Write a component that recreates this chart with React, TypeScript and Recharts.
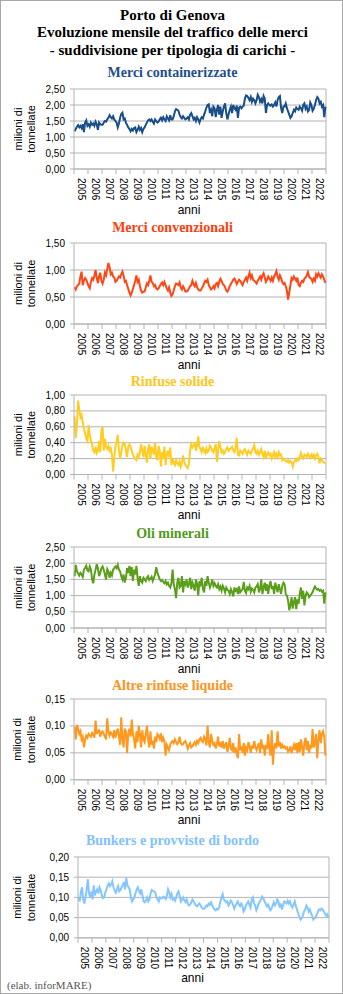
import { LineChart, Line, XAxis, YAxis, CartesianGrid, ReferenceLine } from "recharts";

const years = [
  "2005", "2006", "2007", "2008", "2009", "2010", "2011", "2012", "2013",
  "2014", "2015", "2016", "2017", "2018", "2019", "2020", "2021", "2022",
];

// milioni di tonnellate, monthly 2005-2022
const containerizzate = [
  1.18, 1.25, 1.32, 1.37, 1.30, 1.35, 1.28, 1.40, 1.15, 1.45, 1.52, 1.35,
  1.40, 1.32, 1.45, 1.38, 1.42, 1.35, 1.48, 1.40, 1.22, 1.45, 1.40, 1.38,
  1.38, 1.45, 1.50, 1.48, 1.55, 1.60, 1.68, 1.62, 1.58, 1.65, 1.55, 1.50,
  1.45, 1.30, 1.42, 1.60, 1.72, 1.76, 1.55, 1.58, 1.45, 1.38, 1.30, 1.25,
  1.18, 1.25, 1.20, 1.28, 1.30, 1.15, 1.22, 1.32, 1.22, 1.28, 1.15, 1.25,
  1.30, 1.38, 1.45, 1.52, 1.55, 1.50, 1.55, 1.48, 1.42, 1.55, 1.50, 1.45,
  1.48, 1.55, 1.60, 1.52, 1.62, 1.55, 1.50, 1.65, 1.58, 1.52, 1.68, 1.55,
  1.55, 1.65, 1.80, 1.87, 1.85, 1.82, 1.70, 1.62, 1.58, 1.65, 1.60, 1.55,
  1.58, 1.62, 1.55, 1.70, 1.75, 1.65, 1.55, 1.60, 1.50, 1.62, 1.55, 1.45,
  1.55, 1.62, 1.58, 1.70, 1.80, 1.92, 2.00, 2.02, 1.75, 1.85, 1.65, 1.95,
  1.90, 1.62, 1.85, 2.00, 1.70, 1.95, 1.60, 1.80, 1.95, 2.05, 1.75, 1.55,
  1.70, 1.85, 1.95, 1.75, 2.00, 1.90, 1.85, 1.98, 1.60, 1.92, 1.95, 1.90,
  1.95, 1.98, 2.20, 2.30, 2.28, 2.22, 2.15, 2.25, 2.10, 2.20, 2.15, 2.05,
  2.15, 2.32, 2.25, 2.10, 2.18, 2.05, 2.28, 2.20, 1.75, 2.00, 2.05, 2.00,
  1.98, 2.02, 1.95, 2.00, 2.08, 1.95, 2.15, 2.25, 2.28, 1.90, 1.75, 1.95,
  1.95, 2.05, 1.90, 1.80, 1.70, 1.60, 1.65, 1.75, 1.85, 1.80, 1.92, 1.88,
  1.85, 1.95, 1.90, 1.82, 2.00, 2.05, 1.88, 1.95, 1.80, 1.85, 2.08, 2.00,
  1.82, 1.88, 2.00, 2.15, 2.25, 2.20, 2.05, 2.10, 1.95, 2.00, 1.62, 1.95,
];

const convenzionali = [
  0.68, 0.64, 0.70, 0.72, 0.75, 0.88, 0.97, 0.72, 0.80, 0.85, 0.82, 0.76,
  0.70, 0.66, 0.78, 0.85, 0.82, 0.90, 1.00, 0.85, 0.76, 0.88, 0.95, 0.80,
  0.75, 0.82, 0.95, 0.90, 1.02, 1.13, 1.05, 0.92, 0.95, 0.88, 0.86, 0.78,
  0.80, 0.84, 0.88, 0.86, 0.92, 0.97, 0.90, 0.78, 0.80, 0.72, 0.65, 0.58,
  0.53, 0.58, 0.65, 0.72, 0.80, 0.90, 0.78, 0.82, 0.70, 0.62, 0.58, 0.60,
  0.60, 0.68, 0.75, 0.72, 0.80, 0.90, 0.78, 0.76, 0.70, 0.72, 0.66, 0.64,
  0.66, 0.70, 0.74, 0.77, 0.72, 0.78, 0.72, 0.66, 0.62, 0.68, 0.58, 0.52,
  0.55, 0.62, 0.70, 0.75, 0.74, 0.72, 0.77, 0.68, 0.64, 0.70, 0.66, 0.60,
  0.60, 0.62, 0.66, 0.70, 0.72, 0.80, 0.74, 0.70, 0.76, 0.68, 0.64, 0.62,
  0.62, 0.66, 0.70, 0.75, 0.80, 0.78, 0.82, 0.72, 0.68, 0.64, 0.66, 0.70,
  0.66, 0.74, 0.76, 0.70, 0.78, 0.84, 0.80, 0.74, 0.72, 0.68, 0.62, 0.60,
  0.64, 0.70, 0.74, 0.78, 0.82, 0.84, 0.80, 0.74, 0.78, 0.82, 0.80, 0.76,
  0.72, 0.78, 0.82, 0.86, 0.80, 0.88, 0.95, 0.85, 0.90, 0.82, 0.80, 0.78,
  0.75, 0.80, 0.84, 0.88, 0.82, 0.90, 0.94, 0.86, 0.78, 0.82, 0.88, 0.84,
  0.80, 0.86, 0.80, 0.88, 0.92, 0.98, 0.88, 0.82, 0.90, 0.85, 0.78, 0.74,
  0.76, 0.70, 0.62, 0.45, 0.58, 0.72, 0.85, 0.82, 0.88, 0.84, 0.80, 0.86,
  0.72, 0.70, 0.76, 0.80, 0.78, 0.84, 0.86, 0.90, 0.96, 0.88, 0.85, 0.84,
  0.78, 0.84, 0.80, 0.92, 0.88, 0.94, 0.90, 0.86, 0.92, 0.88, 0.82, 0.76,
];

const rinfuseSolide = [
  0.73, 0.46, 0.62, 0.93, 0.82, 0.72, 0.75, 0.65, 0.58, 0.52, 0.45, 0.42,
  0.62, 0.50, 0.42, 0.38, 0.30, 0.28, 0.35, 0.27, 0.30, 0.42, 0.28, 0.55,
  0.60, 0.30, 0.45, 0.35, 0.32, 0.36, 0.30, 0.33, 0.25, 0.04, 0.20, 0.35,
  0.42, 0.50, 0.30, 0.20, 0.28, 0.36, 0.40, 0.38, 0.30, 0.22, 0.35, 0.38,
  0.35, 0.30, 0.25, 0.22, 0.20, 0.18, 0.25, 0.22, 0.28, 0.38, 0.30, 0.22,
  0.36, 0.25, 0.15, 0.32, 0.38, 0.20, 0.35, 0.30, 0.25, 0.40, 0.22, 0.18,
  0.36, 0.30, 0.10, 0.28, 0.20, 0.35, 0.12, 0.25, 0.30, 0.22, 0.34, 0.12,
  0.20, 0.15, 0.12, 0.18, 0.14, 0.12, 0.16, 0.10, 0.15, 0.24, 0.16, 0.12,
  0.10, 0.08, 0.14, 0.30, 0.38, 0.34, 0.36, 0.40, 0.30, 0.36, 0.48, 0.35,
  0.32, 0.28, 0.35, 0.30, 0.27, 0.33, 0.28, 0.30, 0.36, 0.34, 0.30, 0.28,
  0.33, 0.38, 0.16, 0.30, 0.42, 0.35, 0.28, 0.30, 0.26, 0.28, 0.32, 0.34,
  0.30, 0.32, 0.33, 0.35, 0.30, 0.28, 0.34, 0.46, 0.25, 0.24, 0.30, 0.28,
  0.26, 0.30, 0.32, 0.28, 0.25, 0.30, 0.28, 0.26, 0.30, 0.33, 0.37, 0.28,
  0.26, 0.30, 0.25, 0.28, 0.32, 0.26, 0.22, 0.30, 0.20, 0.26, 0.28, 0.24,
  0.26, 0.20, 0.24, 0.28, 0.22, 0.26, 0.22, 0.28, 0.24, 0.25, 0.18, 0.20,
  0.18, 0.17, 0.16, 0.18, 0.15, 0.17, 0.16, 0.10, 0.15, 0.18, 0.17, 0.20,
  0.18, 0.22, 0.27, 0.22, 0.20, 0.25, 0.24, 0.22, 0.26, 0.23, 0.21, 0.25,
  0.22, 0.25, 0.20, 0.24, 0.26, 0.22, 0.14, 0.20, 0.18, 0.16, 0.15, 0.14,
];

const oliMinerali = [
  1.60, 1.95, 1.75, 1.68, 1.62, 1.70, 1.65, 1.58, 1.80, 1.85, 1.92, 1.78,
  1.75, 1.90, 1.80, 1.50, 1.38, 1.65, 1.80, 1.97, 1.85, 1.60, 1.70, 1.85,
  1.90, 1.80, 1.65, 1.50, 1.82, 1.75, 1.55, 1.70, 1.62, 1.80, 1.85, 1.90,
  1.85, 1.95, 1.80, 1.75, 1.60, 1.50, 1.65, 1.40, 1.55, 1.85, 1.70, 1.92,
  1.60, 1.88, 1.45, 1.80, 1.65, 1.92, 1.55, 1.30, 1.60, 1.45, 1.40, 1.55,
  1.50, 1.45, 1.55, 1.60, 1.48, 1.52, 1.58, 1.45, 1.55, 1.65, 1.88, 1.70,
  1.60, 1.50, 1.45, 1.48, 1.42, 1.38, 1.45, 1.35, 1.40, 1.30, 1.25, 1.38,
  1.80, 1.35, 1.20, 0.92, 1.40, 1.55, 1.25, 1.30, 1.60, 1.10, 1.45, 1.35,
  1.50, 1.25, 1.35, 1.55, 1.20, 1.40, 1.30, 1.15, 1.50, 1.35, 1.00, 1.45,
  1.35, 1.55, 1.20, 1.10, 1.45, 1.30, 1.60, 1.40, 1.25, 1.35, 1.50, 1.30,
  1.38, 1.30, 1.25, 1.35, 1.20, 1.28, 1.15, 1.30, 1.22, 1.10, 1.25, 1.18,
  1.15, 1.05, 1.20, 1.10, 0.98, 1.25, 1.15, 1.20, 1.05, 1.28, 1.10, 1.15,
  1.20, 1.42, 1.15, 1.08, 1.25, 1.20, 1.30, 1.12, 1.22, 1.18, 1.10, 1.25,
  1.28, 1.35, 1.10, 1.20, 1.50, 1.05, 1.25, 1.40, 1.15, 1.35, 1.05, 1.30,
  1.45, 1.20, 1.30, 1.05, 1.40, 1.25, 1.10, 1.35, 1.20, 1.05, 1.30, 1.40,
  1.35, 1.05, 1.00, 0.85, 0.55, 0.70, 0.95, 0.60, 0.80, 0.95, 0.58, 0.88,
  0.75, 1.05, 1.25, 0.90, 1.15, 0.70, 1.00, 1.10, 1.05, 0.95, 1.00, 1.05,
  1.10, 1.20, 1.28, 1.22, 1.18, 1.20, 1.15, 1.18, 1.12, 1.15, 0.75, 1.10,
];

const altreRinfuseLiquide = [
  0.098, 0.075, 0.102, 0.095, 0.085, 0.090, 0.075, 0.080, 0.060, 0.075, 0.082, 0.078,
  0.085, 0.082, 0.080, 0.087, 0.084, 0.078, 0.110, 0.085, 0.090, 0.092, 0.080, 0.088,
  0.090, 0.085, 0.080, 0.075, 0.114, 0.090, 0.082, 0.088, 0.085, 0.080, 0.092, 0.078,
  0.088, 0.095, 0.082, 0.065, 0.116, 0.075, 0.060, 0.095, 0.090, 0.050, 0.085, 0.095,
  0.080, 0.112, 0.085, 0.075, 0.058, 0.090, 0.070, 0.100, 0.085, 0.060, 0.092, 0.075,
  0.070, 0.085, 0.100, 0.075, 0.060, 0.090, 0.065, 0.072, 0.058, 0.080, 0.070, 0.085,
  0.082, 0.076, 0.086, 0.070, 0.078, 0.072, 0.045, 0.065, 0.060, 0.055, 0.065, 0.070,
  0.072, 0.068, 0.075, 0.070, 0.066, 0.070, 0.080, 0.068, 0.065, 0.066, 0.070, 0.072,
  0.066, 0.058, 0.064, 0.068, 0.060, 0.062, 0.066, 0.070, 0.065, 0.072, 0.068, 0.075,
  0.078, 0.072, 0.070, 0.080, 0.076, 0.064, 0.100, 0.070, 0.060, 0.085, 0.072, 0.065,
  0.068, 0.058, 0.066, 0.080, 0.062, 0.070, 0.060, 0.072, 0.058, 0.064, 0.070, 0.052,
  0.062, 0.078, 0.058, 0.055, 0.068, 0.050, 0.060, 0.048, 0.040, 0.085, 0.055, 0.062,
  0.050, 0.068, 0.045, 0.060, 0.055, 0.070, 0.062, 0.050, 0.064, 0.058, 0.072, 0.060,
  0.055, 0.062, 0.068, 0.050, 0.075, 0.058, 0.065, 0.045, 0.062, 0.060, 0.085, 0.055,
  0.045, 0.092, 0.028, 0.060, 0.068, 0.058, 0.090, 0.062, 0.070, 0.058, 0.065, 0.060,
  0.062, 0.058, 0.060, 0.052, 0.055, 0.062, 0.050, 0.058, 0.065, 0.055, 0.068, 0.050,
  0.070, 0.052, 0.075, 0.060, 0.045, 0.068, 0.078, 0.055, 0.072, 0.050, 0.065, 0.058,
  0.094, 0.060, 0.070, 0.085, 0.040, 0.075, 0.092, 0.068, 0.085, 0.090, 0.080, 0.045,
];

const bunkers = [
  0.100, 0.090, 0.115, 0.125, 0.095, 0.085, 0.100, 0.120, 0.145, 0.110, 0.100, 0.115,
  0.095, 0.130, 0.105, 0.115, 0.120, 0.110, 0.125, 0.118, 0.105, 0.098, 0.100, 0.112,
  0.120, 0.130, 0.135, 0.128, 0.132, 0.140, 0.125, 0.118, 0.112, 0.120, 0.128, 0.115,
  0.118, 0.125, 0.130, 0.138, 0.120, 0.148, 0.130, 0.125, 0.120, 0.100, 0.090, 0.095,
  0.100, 0.110, 0.120, 0.125, 0.115, 0.110, 0.120, 0.105, 0.090, 0.088, 0.092, 0.100,
  0.090, 0.095, 0.110, 0.118, 0.116, 0.115, 0.112, 0.100, 0.095, 0.090, 0.100, 0.098,
  0.098, 0.102, 0.100, 0.096, 0.105, 0.120, 0.112, 0.100, 0.108, 0.095, 0.098, 0.092,
  0.100, 0.110, 0.115, 0.105, 0.090, 0.095, 0.100, 0.092, 0.088, 0.095, 0.085, 0.080,
  0.082, 0.088, 0.095, 0.090, 0.085, 0.080, 0.078, 0.082, 0.085, 0.080, 0.075, 0.072,
  0.072, 0.075, 0.080, 0.078, 0.085, 0.082, 0.088, 0.080, 0.075, 0.070, 0.068, 0.072,
  0.070, 0.075, 0.090, 0.100, 0.108, 0.095, 0.092, 0.088, 0.090, 0.080, 0.085, 0.092,
  0.088, 0.080, 0.072, 0.080, 0.085, 0.090, 0.082, 0.078, 0.085, 0.080, 0.065, 0.070,
  0.080, 0.085, 0.090, 0.082, 0.075, 0.095, 0.100, 0.085, 0.080, 0.068, 0.075, 0.085,
  0.090, 0.095, 0.102, 0.098, 0.090, 0.085, 0.078, 0.082, 0.075, 0.068, 0.072, 0.080,
  0.088, 0.080, 0.085, 0.095, 0.090, 0.075, 0.085, 0.070, 0.080, 0.090, 0.088, 0.085,
  0.092, 0.085, 0.090, 0.080, 0.075, 0.082, 0.090, 0.078, 0.070, 0.060, 0.052, 0.045,
  0.048, 0.055, 0.065, 0.070, 0.080, 0.075, 0.065, 0.070, 0.060, 0.055, 0.045, 0.048,
  0.050, 0.058, 0.065, 0.070, 0.068, 0.072, 0.070, 0.065, 0.060, 0.055, 0.058, 0.050,
];

const SANS = "'Liberation Sans', Arial, sans-serif";
const SERIF = "'Liberation Serif', 'Times New Roman', serif";
const GRID = "#b3b3b3";
const MONTHS = years.length * 12;

const fmt = (v: number) => v.toFixed(2).replace(".", ",");

type Panel = {
  title: string;
  titleColor: string;
  color: string;
  values: number[];
  ticks: number[];
  titleY: number;
  top: number;
  bottom: number;
  left: number;
  right: number;
};

const panels: Panel[] = [
  { title: "Merci containerizzate", titleColor: "#1f4e8c", color: "#1a4e8a", values: containerizzate,
    ticks: [0, 0.5, 1, 1.5, 2, 2.5], titleY: 72, top: 87.5, bottom: 167.5, left: 73, right: 325 },
  { title: "Merci convenzionali", titleColor: "#ff3d0d", color: "#ff4614", values: convenzionali,
    ticks: [0, 0.5, 1, 1.5], titleY: 227, top: 241.5, bottom: 322.5, left: 73, right: 325 },
  { title: "Rinfuse solide", titleColor: "#ffc61a", color: "#ffcc22", values: rinfuseSolide,
    ticks: [0, 0.2, 0.4, 0.6, 0.8, 1], titleY: 381, top: 394, bottom: 473.5, left: 73, right: 325 },
  { title: "Oli minerali", titleColor: "#4f9a1c", color: "#5a9e1a", values: oliMinerali,
    ticks: [0, 0.5, 1, 1.5, 2, 2.5], titleY: 533, top: 545.5, bottom: 626.5, left: 73, right: 325 },
  { title: "Altre rinfuse liquide", titleColor: "#ff9320", color: "#ff981c", values: altreRinfuseLiquide,
    ticks: [0, 0.05, 0.1, 0.15], titleY: 685, top: 697.5, bottom: 778.3, left: 73, right: 325 },
  { title: "Bunkers e provviste di bordo", titleColor: "#80c2ff", color: "#85c6ff", values: bunkers,
    ticks: [0, 0.05, 0.1, 0.15, 0.2], titleY: 840, top: 855.5, bottom: 936.3, left: 77, right: 328 },
];

const yearTicks = Array.from({ length: years.length + 1 }, (_, i) => i * 12);

function YearTick(props: any) {
  const { x, y, payload, half } = props;
  const i = Math.round(payload.value / 12);
  if (i >= years.length) return null;
  const tx = x + half;
  return (
    <text x={tx} y={y} transform={`rotate(90, ${tx}, ${y})`} textAnchor="start"
      dominantBaseline="central" fontSize={10} fill="#000" fontFamily={SANS}>
      {years[i]}
    </text>
  );
}

function YLabel(props: any) {
  const { cy } = props;
  return (
    <g fontFamily={SANS} fontSize={11} fill="#000">
      <text x={20.5} y={cy} textAnchor="middle" transform={`rotate(-90, 20.5, ${cy})`}>milioni di</text>
      <text x={34.3} y={cy} textAnchor="middle" transform={`rotate(-90, 34.3, ${cy})`}>tonnellate</text>
    </g>
  );
}

function XLabel(props: any) {
  const { px, py } = props;
  return (
    <text x={px} y={py} textAnchor="middle" dominantBaseline="central"
      fontFamily={SANS} fontSize={12} fill="#000">anni</text>
  );
}

function PanelChart({ p }: { p: Panel }) {
  const data = p.values.map((v, i) => ({ x: i + 0.5, v }));
  const plotH = p.bottom - p.top;
  const mTop = 4;
  const axisH = 52;
  const half = (p.right - p.left) / years.length / 2;
  const max = p.ticks[p.ticks.length - 1];
  return (
    <div style={{ position: "absolute", left: 0, top: p.top - mTop }}>
      <LineChart width={343} height={mTop + plotH + axisH} data={data}
        margin={{ top: mTop, right: 343 - p.right, bottom: 0, left: 0 }}>
        <CartesianGrid vertical={false} stroke={GRID} />
        <XAxis dataKey="x" type="number" domain={[0, MONTHS]} ticks={yearTicks} interval={0}
          height={axisH} stroke={GRID} tickSize={5} tickMargin={4}
          tick={(t: any) => <YearTick {...t} half={half} />}
          label={<XLabel px={(p.left + p.right) / 2 - 11} py={plotH + mTop + 40.5} />} />
        <YAxis type="number" domain={[0, max]} ticks={p.ticks} width={p.left} stroke={GRID}
          tickSize={4} tickMargin={5} tickFormatter={fmt} interval={0}
          tick={{ fontSize: 10, fill: "#000", fontFamily: SANS }}
          label={<YLabel cy={mTop + plotH / 2} />} />
        <ReferenceLine x={MONTHS} stroke={GRID} />
        <Line type="linear" dataKey="v" stroke={p.color} strokeWidth={2} dot={false}
          isAnimationActive={false} />
      </LineChart>
    </div>
  );
}

const mainTitle = [
  { text: "Porto di Genova", y: 14 },
  { text: "Evoluzione mensile del traffico delle merci", y: 30.7 },
  { text: "- suddivisione per tipologia di carichi -", y: 49 },
];

export default function App() {
  return (
    <div style={{ position: "absolute", left: 0, top: 0, width: 343, height: 994, background: "#fff",
      border: "1px solid #a8a8a8", boxSizing: "border-box", overflow: "hidden" }}>
      {mainTitle.map((t) => (
        <div key={t.text} style={{ position: "absolute", left: 0, width: 343, top: t.y - 9, lineHeight: "18px",
          textAlign: "center", fontFamily: SERIF, fontWeight: "bold", fontSize: 15, color: "#000" }}>
          {t.text}
        </div>
      ))}
      {panels.map((p) => (
        <div key={p.title} style={{ position: "absolute", left: 0, width: 343, top: p.titleY - 9, lineHeight: "18px",
          textAlign: "center", fontFamily: SERIF, fontWeight: "bold", fontSize: 14, color: p.titleColor }}>
          {p.title}
        </div>
      ))}
      {panels.map((p) => (
        <PanelChart key={p.title} p={p} />
      ))}
      <div style={{ position: "absolute", left: 6, top: 977, lineHeight: "14px", fontFamily: SERIF,
        fontSize: 11, color: "#555" }}>
        (elab. inforMARE)
      </div>
    </div>
  );
}
